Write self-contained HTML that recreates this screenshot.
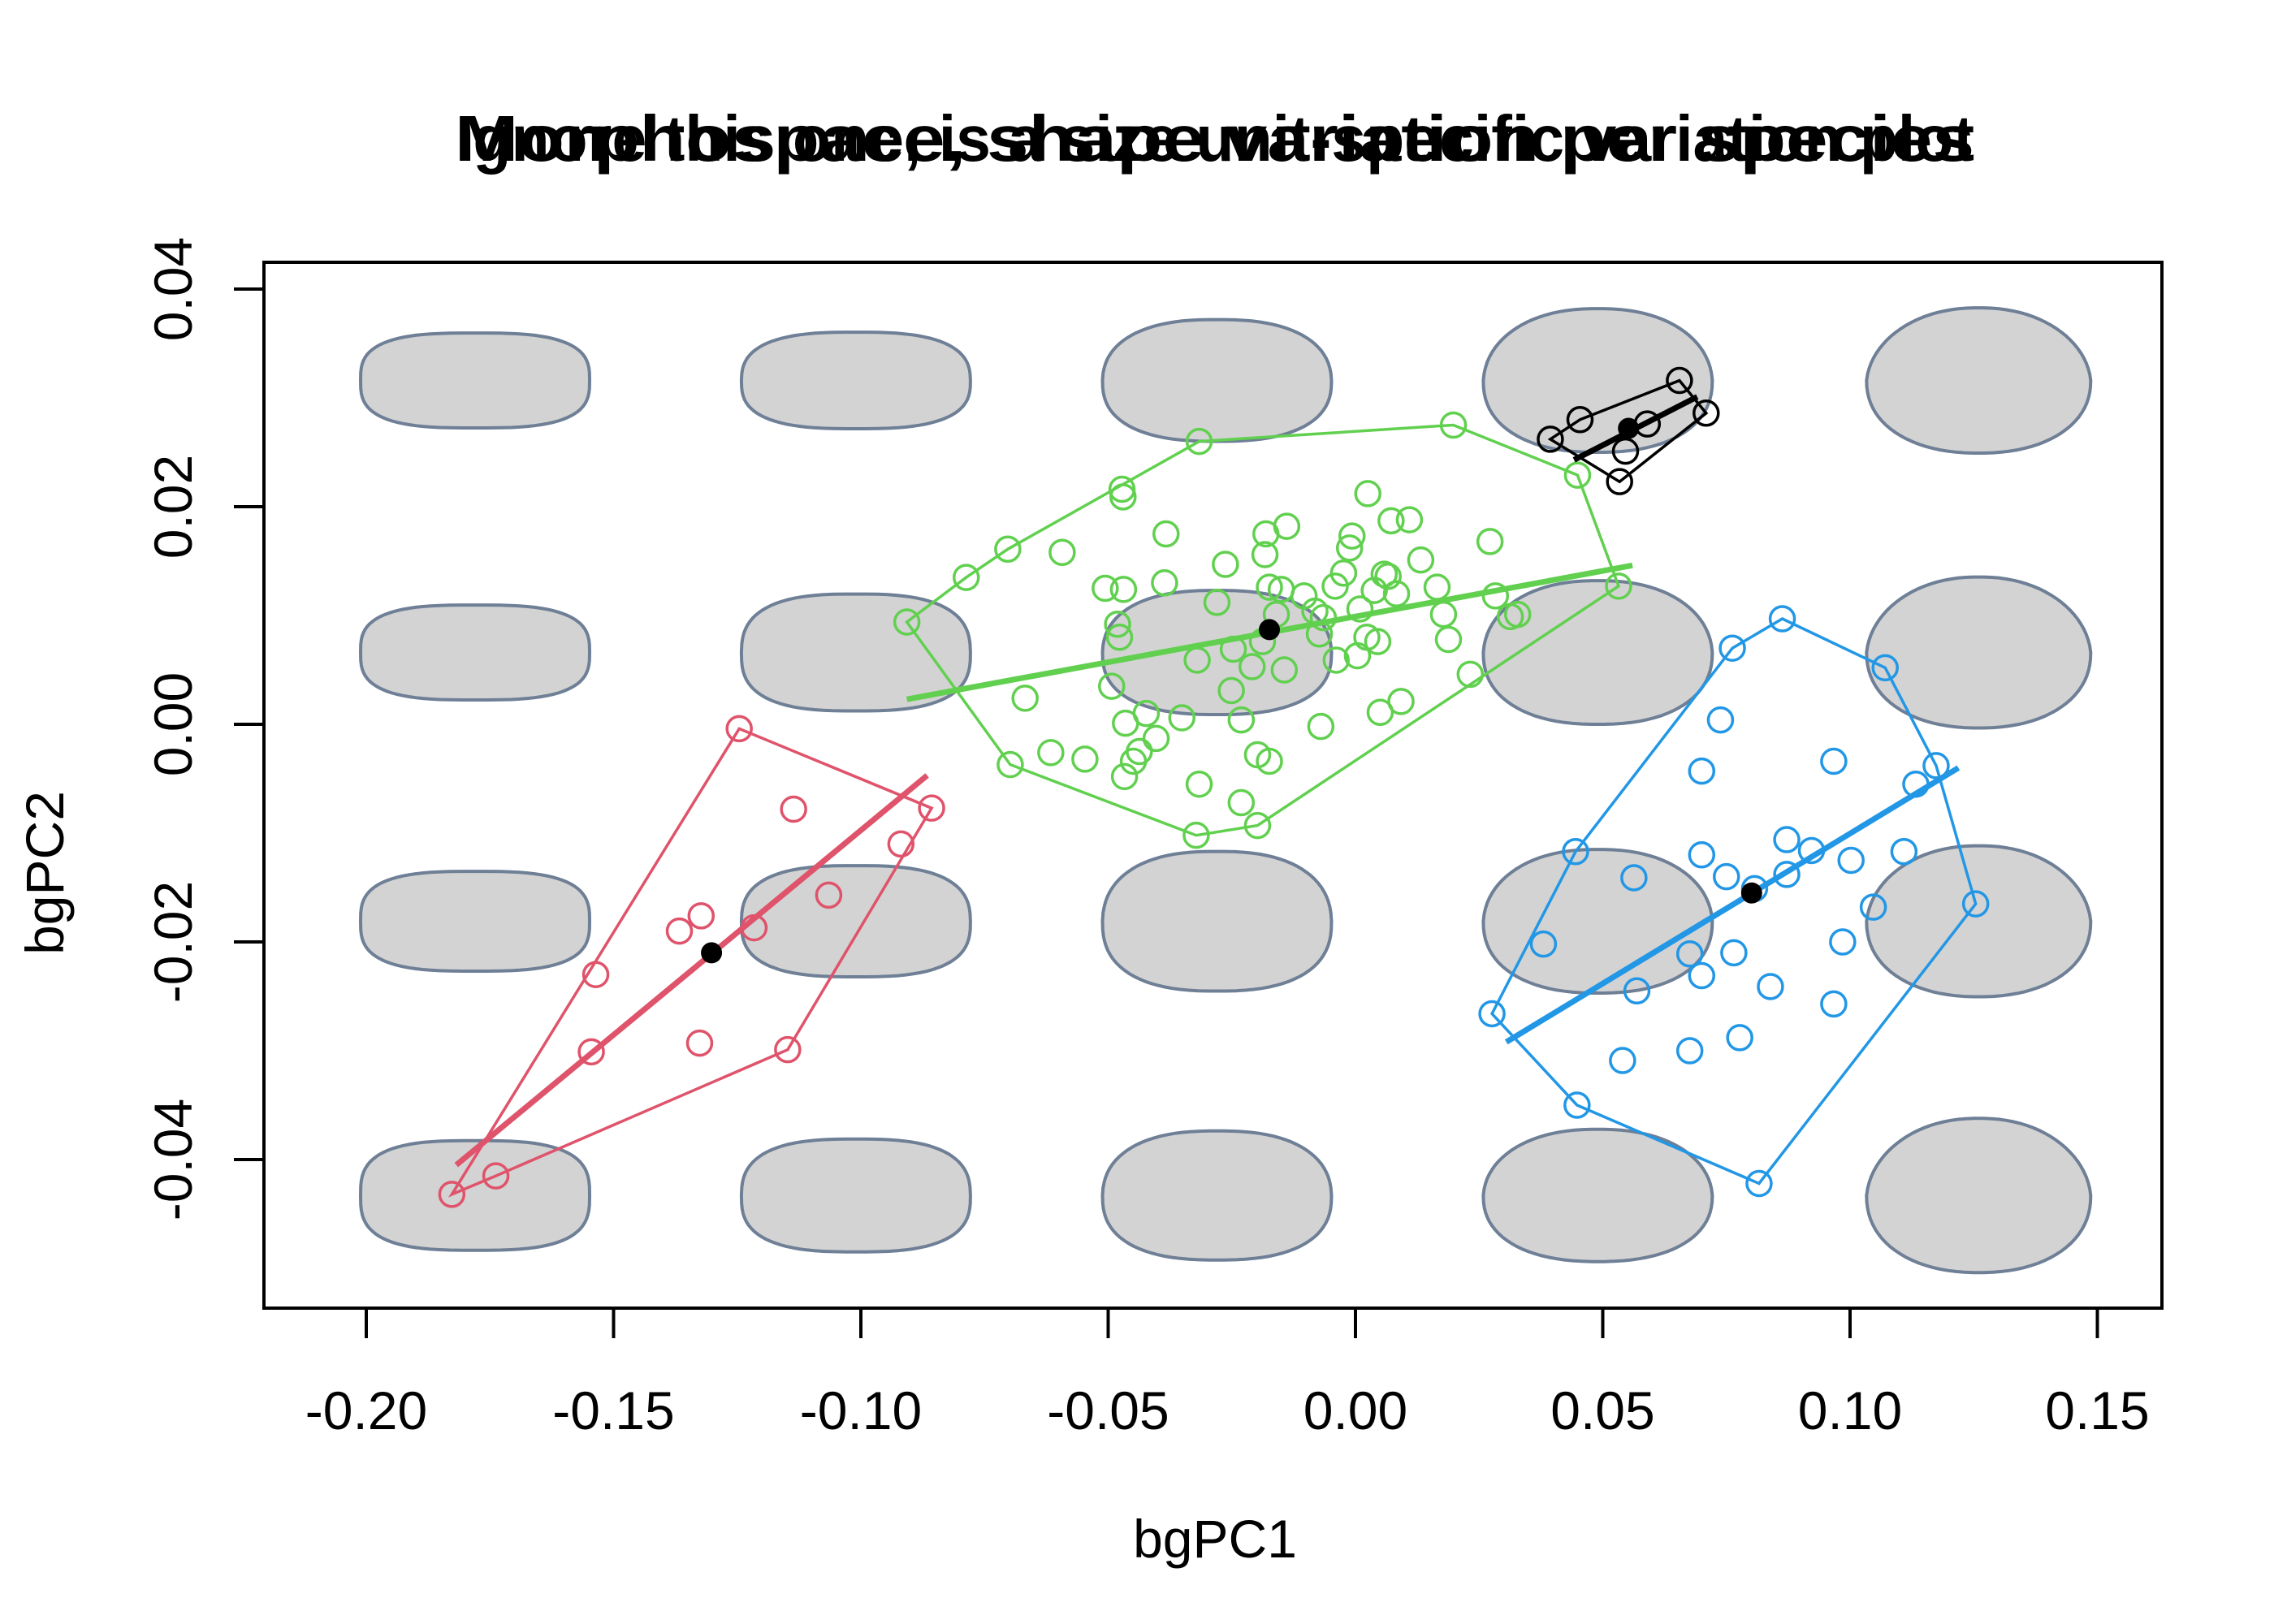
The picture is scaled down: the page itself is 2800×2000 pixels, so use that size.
<!DOCTYPE html>
<html><head><meta charset="utf-8">
<style>
html,body{margin:0;padding:0;background:#fff;}
svg{display:block;}
text{font-family:"Liberation Sans",Arial,sans-serif;}
</style></head>
<body>
<svg id="chart" width="2800" height="2000" viewBox="0 0 2800 2000" xmlns="http://www.w3.org/2000/svg">
  <rect x="0" y="0" width="2800" height="2000" fill="#fff"/>
  <g>
    <text x="1496" y="198" text-anchor="middle" font-size="80" font-weight="bold" textLength="1870" lengthAdjust="spacingAndGlyphs">Morphospace, shape variation per species</text>
    <text x="1496" y="198" text-anchor="middle" font-size="80" font-weight="bold" textLength="1870" lengthAdjust="spacingAndGlyphs">Ignore this one, is a size unit-specific variation plot</text>
  </g>
  <g id="shapes"></g>
  <g id="marks"></g>
  <rect x="325" y="323" width="2337" height="1288" fill="none" stroke="#000" stroke-width="4"/>
  <g id="xaxis"></g>
  <g id="yaxis"></g>
  <text x="1496" y="1918" text-anchor="middle" font-size="66">bgPC1</text>
  <text transform="translate(78,1075) rotate(-90)" text-anchor="middle" font-size="66">bgPC2</text>
</svg>
<script>
const xTicks = [-0.20,-0.15,-0.10,-0.05,0.00,0.05,0.10,0.15];
const xTickLabels = ["-0.20","-0.15","-0.10","-0.05","0.00","0.05","0.10","0.15"];
const yTicks = [-0.04,-0.02,0.00,0.02,0.04];
const yTickLabels = ["-0.04","-0.02","0.00","0.02","0.04"];

const redX = [-0.1827,-0.1738,-0.1545,-0.1536,-0.1326,-0.1367,-0.1323,-0.1216,-0.1246,-0.1136,-0.1065,-0.1148,-0.0919,-0.0857];
const redY = [-0.0432,-0.0415,-0.0301,-0.0230,-0.0293,-0.0190,-0.0176,-0.0187,-0.0004,-0.0078,-0.0157,-0.0299,-0.0110,-0.0077];
const redCentroid = [-0.1302,-0.0210];
const redLine = [-0.1818,-0.0405,-0.0866,-0.0047];

const blueX = [0.0276,0.0448,0.0816,0.1254,0.1174,0.1071,0.0863,0.0762,0.0738,0.0700,0.0967,0.1133,0.1109,0.1047,0.0985,0.0967,0.0839,0.0777,0.0676,0.0540,0.0569,0.0700,0.0676,0.0765,0.0872,0.0922,0.1002,0.0872,0.0750,0.0700,0.0807,0.0563,0.0445,0.0380];
const blueY = [-0.0266,-0.0350,-0.0422,-0.0165,-0.0038,0.0052,0.0097,0.0070,0.0004,-0.0043,-0.0034,-0.0055,-0.0117,-0.0168,-0.0200,-0.0257,-0.0241,-0.0288,-0.0300,-0.0309,-0.0245,-0.0231,-0.0211,-0.0210,-0.0138,-0.0116,-0.0125,-0.0106,-0.0140,-0.0120,-0.0151,-0.0141,-0.0117,-0.0202];
const blueCentroid = [0.0801,-0.0155];
const blueLine = [0.0305,-0.0292,0.1219,-0.0040];

const blackX = [0.0394,0.0454,0.0534,0.0546,0.0590,0.0655,0.0709];
const blackY = [0.0262,0.0280,0.0223,0.0251,0.0276,0.0316,0.0286];
const blackCentroid = [0.0552,0.0272];
const blackLine = [0.0442,0.0243,0.0691,0.0301];

const greenX = [-0.0907,-0.0787,-0.0703,-0.0472,-0.0316,0.0198,0.0449,0.0532,0.0232,-0.0198,-0.0322,-0.0698,
 -0.0470,-0.0383,-0.0593,-0.0181,-0.0139,-0.0183,-0.0263,0.0025,0.0072,0.0109,-0.0007,-0.0012,0.0272,0.0132,
 -0.0506,-0.0469,-0.0386,-0.0174,-0.0150,-0.0280,-0.0104,-0.0024,-0.0041,0.0058,0.0066,0.0038,0.0083,0.0165,0.0283,
 -0.0082,-0.0065,0.0009,-0.0160,-0.0481,-0.0477,-0.0073,0.0178,0.0313,0.0328,0.0023,0.0045,0.0188,-0.0188,-0.0247,
 -0.0320,-0.0209,-0.0144,-0.0039,0.0004,-0.0493,-0.0668,-0.0251,-0.0423,-0.0465,-0.0351,-0.0231,-0.0070,0.0050,0.0092,
 -0.0403,-0.0616,-0.0547,-0.0437,-0.0449,-0.0467,-0.0198,-0.0174,-0.0316,-0.0231];
const greenY = [0.0094,0.0135,0.0161,0.0216,0.0260,0.0275,0.0229,0.0127,0.0046,-0.0093,-0.0102,-0.0037,
 0.0209,0.0175,0.0158,0.0175,0.0182,0.0156,0.0147,0.0212,0.0187,0.0188,0.0173,0.0162,0.0168,0.0151,
 0.0125,0.0124,0.0130,0.0126,0.0124,0.0112,0.0118,0.0139,0.0127,0.0138,0.0136,0.0123,0.0120,0.0126,0.0118,
 0.0104,0.0098,0.0106,0.0101,0.0092,0.0080,0.0083,0.0101,0.0099,0.0101,0.0080,0.0076,0.0078,0.0076,0.0069,
 0.0059,0.0053,0.0050,0.0059,0.0063,0.0035,0.0024,0.0031,0.0010,0.0001,0.0006,0.0004,-0.0002,0.0011,0.0021,
 -0.0013,-0.0026,-0.0032,-0.0025,-0.0034,-0.0048,-0.0028,-0.0034,-0.0055,-0.0072];
const greenCentroid = [-0.0174,0.0087];
const greenLine = [-0.0907,0.0023,0.0560,0.0146];

const shapeColX = [-0.1780,-0.1010,-0.0280,0.0490,0.1260];
const shapeRowY = [0.0316,0.0066,-0.0181,-0.0433];

const NS = "http://www.w3.org/2000/svg";
function sx(v){ return 1669 + v*6090; }
function sy(v){ return 892 - v*13400; }
function el(tag, attrs, parent){
  const e = document.createElementNS(NS, tag);
  for (const k in attrs) e.setAttribute(k, attrs[k]);
  parent.appendChild(e);
  return e;
}

// background shapes
const shapesG = document.getElementById('shapes');
const hts = [[117,119,150,177,179],[117,144,153,177,186],[123,137,172,177,186],[135,139,159,163,190]];
const exps = [3.0,2.8,2.5,2.3,2.2];
shapeColX.forEach((cxv, ci) => {
  shapeRowY.forEach((cyv, ri) => {
    const cx = sx(cxv), cy = sy(cyv);
    const w = ci === 4 ? 276 : 282;
    const h = hts[ri][ci];
    const n = exps[ci];
    let d = "";
    for (let i = 0; i <= 90; i++) {
      const t = i/90*2*Math.PI;
      const c = Math.cos(t), s = Math.sin(t);
      let px = Math.sign(c)*Math.pow(Math.abs(c), 2/n)*w/2;
      let py = Math.sign(s)*Math.pow(Math.abs(s), 2/n)*h/2;
      if (py < 0) px *= (1 - 0.10*ci/4*Math.abs(s));
      d += (i ? "L" : "M") + (cx+px).toFixed(1) + "," + (cy+py).toFixed(1);
    }
    const p = el('path', {d: d + "Z", fill: "#d3d3d3", stroke: "#6e7f96", "stroke-width": 4}, shapesG);
    
    
  });
});

function hull(xs, ys){
  const pts = xs.map((x,i)=>[x,ys[i]]).sort((a,b)=>a[0]-b[0]||a[1]-b[1]);
  const cr=(o,a,b)=>(a[0]-o[0])*(b[1]-o[1])-(a[1]-o[1])*(b[0]-o[0]);
  const lo=[],up=[];
  for(const p of pts){while(lo.length>=2&&cr(lo[lo.length-2],lo[lo.length-1],p)<=0)lo.pop();lo.push(p);}
  for(let i=pts.length-1;i>=0;i--){const p=pts[i];while(up.length>=2&&cr(up[up.length-2],up[up.length-1],p)<=0)up.pop();up.push(p);}
  up.pop();lo.pop();
  return lo.concat(up);
}

const marks = document.getElementById('marks');
function group(name, color, xs, ys, cen, line){
  const g = el('g', {}, marks);
  
  
  const h = hull(xs, ys);
  const poly = el('polygon', {points: h.map(p=>sx(p[0]).toFixed(1)+","+sy(p[1]).toFixed(1)).join(" "), fill:"none", stroke:color, "stroke-width":3.5}, g);
  
  
  xs.forEach((x,i)=>{
    const c = el('circle', {cx: sx(x), cy: sy(ys[i]), r: 15, fill:"none", stroke: color, "stroke-width": 3.5}, g);
    
    
  });
  const ln = el('line', {x1: sx(line[0]), y1: sy(line[1]), x2: sx(line[2]), y2: sy(line[3]), stroke: color, "stroke-width": 7}, g);
  
  
  const cd = el('circle', {cx: sx(cen[0]), cy: sy(cen[1]), r: 13, fill: "#000"}, g);
  
  
}
group('red', '#DF536B', redX, redY, redCentroid, redLine);
group('green', '#61D04F', greenX, greenY, greenCentroid, greenLine);
group('blue', '#2297E6', blueX, blueY, blueCentroid, blueLine);
group('black', '#000000', blackX, blackY, blackCentroid, blackLine);

// axes
const xa = document.getElementById('xaxis');
el('line', {x1: sx(xTicks[0]), y1: 1611, x2: sx(xTicks[xTicks.length-1]), y2: 1611, stroke:"#000", "stroke-width":4}, xa);
xTicks.forEach((v,i)=>{
  const t = el('line', {x1: sx(v), y1: 1611, x2: sx(v), y2: 1648, stroke:"#000", "stroke-width":4}, xa);
  
  
  const lb = el('text', {x: sx(v), y: 1760, "text-anchor":"middle", "font-size":66}, xa);
  lb.textContent = xTickLabels[i];
  
  
});
const ya = document.getElementById('yaxis');
el('line', {x1: 325, y1: sy(yTicks[0]), x2: 325, y2: sy(yTicks[yTicks.length-1]), stroke:"#000", "stroke-width":4}, ya);
yTicks.forEach((v,i)=>{
  const t = el('line', {x1: 288, y1: sy(v), x2: 325, y2: sy(v), stroke:"#000", "stroke-width":4}, ya);
  
  
  const lb = el('text', {transform: "translate(236," + sy(v) + ") rotate(-90)", "text-anchor":"middle", "font-size":66}, ya);
  lb.textContent = yTickLabels[i];
  
  
});
</script>
</body></html>
